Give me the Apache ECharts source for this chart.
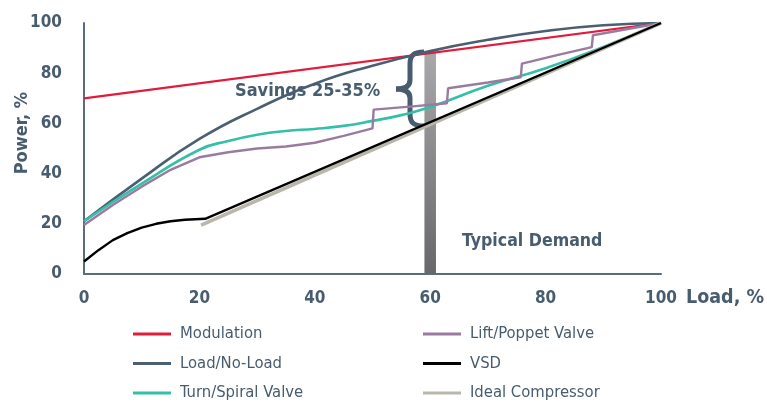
<!DOCTYPE html>
<html>
<head>
<meta charset="utf-8">
<script src="https://cdn.jsdelivr.net/npm/echarts@6/dist/echarts.min.js"></script>
<style>
  html, body { margin: 0; padding: 0; background: #fff; }
  #chart { width: 767px; height: 405px; }
</style>
</head>
<body>
<div id="chart"></div>
<script>
// values: [load %, power %]
const modulation = [[0, 70], [100, 100]];
const loadNoLoad = [[0, 21], [10, 38], [20, 53.8], [30, 65.8], [40, 75.8], [50, 83], [60, 88.8], [70, 93.3], [80, 96.8], [90, 99.1], [100, 100]];
const turnSpiral = [[0, 21], [10, 36], [20, 49.5], [25, 53], [30, 55.5], [35, 57], [40, 57.8], [45, 59], [50, 61], [55, 63.3], [60, 66.5], [70, 75], [80, 82], [90, 90.5], [100, 100]];
const liftPoppet = [[0, 19.5], [5, 27.5], [10, 34.8], [15, 41.5], [20, 46.5], [25, 48.5], [30, 50], [35, 50.8], [40, 52.3], [45, 55], [50, 58], [50.2, 65.5], [57, 66.8], [62.9, 68], [63.1, 74], [70, 76.3], [75.7, 78.4], [75.9, 83.8], [82, 87.2], [88, 90.4], [88.2, 95.1], [100, 100]];
const vsd = [[0, 5], [2.5, 9.5], [5, 13.5], [7.5, 16.3], [10, 18.5], [12.5, 20], [15, 21], [17.5, 21.6], [21, 22], [100, 100]];
const idealCompressor = [[20.3, 19.5], [100, 100]];
const typicalDemand = { from: 59, to: 61, top: 89 };
const axisTicks = [0, 20, 40, 60, 80, 100];

const txt = '#475c6e';
const font = "'DejaVu Sans Condensed', 'DejaVu Sans', sans-serif";

const chart = echarts.init(document.getElementById('chart'));

const line = (name, data, color, width, z, smooth) => ({
  name,
  type: 'line',
  data,
  symbol: 'none',
  smooth: smooth || false,
  z: z || 2,
  lineStyle: { color, width },
  itemStyle: { color },
});

// curly brace drawn from curve pieces
const braceStyle = { stroke: txt, lineWidth: 5, fill: 'none' };
const brace = [
  { type: 'bezierCurve', shape: { x1: 30, y1: 2, cpx1: 19, cpy1: 2, cpx2: 16, cpy2: 6, x2: 16, y2: 14 } },
  { type: 'line', shape: { x1: 16, y1: 14, x2: 16, y2: 30 } },
  { type: 'bezierCurve', shape: { x1: 16, y1: 30, cpx1: 16, cpy1: 36, cpx2: 11, cpy2: 39, x2: 2, y2: 39 } },
  { type: 'bezierCurve', shape: { x1: 2, y1: 39, cpx1: 11, cpy1: 39, cpx2: 16, cpy2: 42, x2: 16, y2: 48 } },
  { type: 'line', shape: { x1: 16, y1: 48, x2: 16, y2: 64 } },
  { type: 'bezierCurve', shape: { x1: 16, y1: 64, cpx1: 16, cpy1: 72, cpx2: 19, cpy2: 76, x2: 30, y2: 76 } },
].map(p => Object.assign(p, { style: braceStyle }));

const legendBase = {
  orient: 'vertical',
  top: 325,
  padding: 0,
  icon: 'rect',
  itemWidth: 38, itemHeight: 3, itemGap: 11.5,
  textStyle: { color: txt, fontFamily: font, fontSize: 16.5, lineHeight: 18, padding: [0, 0, 0, 4] },
};

chart.setOption({
  animation: false,
  grid: { left: 84, right: 106, top: 23, bottom: 131 },
  xAxis: {
    type: 'value',
    min: axisTicks[0],
    max: axisTicks[axisTicks.length - 1],
    interval: 20,
    splitLine: { show: false },
    axisTick: { show: false },
    axisLine: { lineStyle: { color: '#5a6d7e', width: 2 } },
    axisLabel: { color: txt, fontFamily: font, fontWeight: 'bold', fontSize: 17, margin: 16 },
    name: 'Load, %',
    nameLocation: 'end',
    nameGap: 25,
    nameTextStyle: { color: txt, fontFamily: font, fontWeight: 'bold', fontSize: 19.5, align: 'left', verticalAlign: 'top', padding: [14, 0, 0, 0] },
  },
  yAxis: {
    type: 'value',
    min: 0,
    max: 100,
    interval: 20,
    splitLine: { show: false },
    axisTick: { show: false },
    axisLine: { show: true, lineStyle: { color: '#5a6d7e', width: 2 } },
    axisLabel: { color: txt, fontFamily: font, fontWeight: 'bold', fontSize: 17, margin: 22 },
  },
  legend: [
    Object.assign({ data: ['Modulation', 'Load/No-Load', 'Turn/Spiral Valve'], left: 133 }, legendBase),
    Object.assign({ data: ['Lift/Poppet Valve', 'VSD', 'Ideal Compressor'], left: 423 }, legendBase),
  ],
  series: [
    line('Modulation', modulation, '#e31b3b', 2.2),
    line('Load/No-Load', loadNoLoad, '#4a5f72', 2.6, 2, true),
    line('Turn/Spiral Valve', turnSpiral, '#35bfa9', 2.6, 2, true),
    line('Lift/Poppet Valve', liftPoppet, '#9a7b9f', 2.4),
    line('VSD', vsd, '#000000', 2.4, 4),
    line('Ideal Compressor', idealCompressor, '#b9b7ab', 3.6, 3),
    {
      name: 'Typical Demand',
      type: 'line',
      data: [],
      z: 6,
      markArea: {
        silent: true,
        itemStyle: {
          color: {
            type: 'linear', x: 0, y: 0, x2: 0, y2: 1,
            colorStops: [
              { offset: 0, color: '#a9a9ab' },
              { offset: 1, color: '#68686b' },
            ],
          },
        },
        data: [[{ coord: [typicalDemand.from, 0] }, { coord: [typicalDemand.to, typicalDemand.top] }]],
      },
    },
  ],
  graphic: [
    {
      type: 'text', left: 13, top: 92, rotation: Math.PI / 2, z: 10,
      style: { text: 'Power, %', fill: txt, font: "bold 18px " + font },
    },
    {
      type: 'text', left: 235, top: 82, z: 10,
      style: { text: 'Savings 25-35%', fill: txt, font: "bold 18px " + font },
    },
    {
      type: 'text', left: 462, top: 232, z: 10,
      style: { text: 'Typical Demand', fill: txt, font: "bold 17.6px " + font },
    },
    { type: 'group', x: 394, y: 50, z: 10, children: brace },
  ],
});
</script>
</body>
</html>
